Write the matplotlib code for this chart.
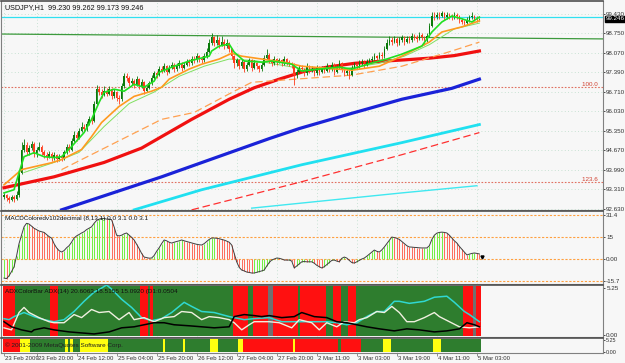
import numpy as np
import matplotlib
matplotlib.use('Agg')
import matplotlib.pyplot as plt
from matplotlib.transforms import blended_transform_factory as btf

plt.rcParams['font.family'] = ['Liberation Sans', 'DejaVu Sans']

# ---------------- data ----------------
symbol_title = "USDJPY,H1  99.230 99.262 99.173 99.246"
macd_title = "MACDColoredv102decimal (8,13,1) 0.0 3.1 0.0 3.1"
adx_title = "ADXColorBar ADX(14) 20.6063 18.5155 15.0920 (D1:0.0504"
copyright_text = "\u00a9 2001-2009 MetaQuotes Software Corp."

first_open = 93.05
closes = [93.10, 93.00, 92.95, 93.05, 92.98, 93.10, 93.90, 94.70, 94.85, 94.60,
          94.75, 94.90, 94.55, 94.70, 94.80, 94.60, 94.50, 94.45, 94.55, 94.40,
          94.50, 94.38, 94.45, 94.40, 94.60, 94.80, 94.70, 95.00, 95.20, 95.10,
          95.35, 95.50, 95.40, 95.60, 95.75, 95.70, 96.30, 96.80, 96.70, 96.60,
          96.75, 96.65, 96.80, 96.55, 96.70, 96.50, 96.45, 96.90, 97.25, 97.20,
          97.00, 97.10, 96.95, 97.15, 96.90, 97.05, 96.75, 96.85, 97.00, 97.20,
          97.35, 97.30, 97.50, 97.45, 97.60, 97.40, 97.55, 97.65, 97.50, 97.60,
          97.70, 97.55, 97.65, 97.75, 97.70, 97.85, 97.80, 97.95, 97.85, 97.80,
          97.95, 98.10, 98.40, 98.60, 98.40, 98.50, 98.35, 98.45, 98.30, 98.40,
          98.20, 97.95, 97.70, 97.80, 97.60, 97.75, 97.50, 97.65, 97.80, 97.55,
          97.70, 97.60, 97.50, 97.65, 97.90, 98.00, 97.80, 97.70, 97.85, 97.75,
          97.80, 97.70, 97.85, 97.75, 97.70, 97.65, 97.30, 97.40, 97.55, 97.50,
          97.35, 97.60, 97.45, 97.50, 97.35, 97.55, 97.40, 97.50, 97.45, 97.60,
          97.50, 97.65, 97.40, 97.55, 97.70, 97.50, 97.35, 97.45, 97.30, 97.55,
          97.65, 97.60, 97.70, 97.75, 97.65, 97.75, 97.80, 97.85, 97.95, 97.90,
          98.00, 97.95, 98.20, 98.40, 98.50, 98.45, 98.55, 98.40, 98.50, 98.60,
          98.45, 98.55, 98.50, 98.65, 98.60, 98.55, 98.70, 98.60, 98.50, 98.65,
          99.00, 99.35, 99.30, 99.40, 99.35, 99.45, 99.30, 99.40, 99.35, 99.30,
          99.40, 99.35, 99.20, 99.15, 99.10, 99.20, 99.30, 99.35, 99.25, 99.23,
          99.246]
highs = [93.18, 93.15, 93.08, 93.12, 93.10, 93.25, 94.00, 94.95, 95.05, 94.95,
         94.85, 95.00, 94.95, 94.80, 94.95, 94.85, 94.70, 94.60, 94.65, 94.60,
         94.60, 94.55, 94.55, 94.50, 94.70, 94.90, 94.88, 95.10, 95.35, 95.30,
         95.45, 95.65, 95.60, 95.70, 95.85, 95.85, 96.40, 96.95, 96.90, 96.80,
         96.90, 96.85, 96.90, 96.85, 96.80, 96.75, 96.60, 97.00, 97.35, 97.35,
         97.25, 97.20, 97.15, 97.25, 97.20, 97.15, 97.10, 96.95, 97.10, 97.30,
         97.45, 97.45, 97.60, 97.60, 97.70, 97.65, 97.65, 97.75, 97.70, 97.70,
         97.80, 97.75, 97.75, 97.85, 97.85, 97.95, 97.95, 98.05, 98.00, 97.95,
         98.05, 98.25, 98.55, 98.75, 98.65, 98.70, 98.60, 98.65, 98.55, 98.55,
         98.45, 98.25, 98.00, 97.90, 97.85, 97.85, 97.80, 97.75, 97.90, 97.85,
         97.80, 97.75, 97.65, 97.75, 98.00, 98.20, 98.05, 97.85, 97.95, 97.90,
         97.90, 97.85, 97.95, 97.90, 97.80, 97.75, 97.70, 97.50, 97.65, 97.65,
         97.55, 97.70, 97.65, 97.60, 97.55, 97.65, 97.60, 97.60, 97.55, 97.70,
         97.65, 97.75, 97.70, 97.65, 97.80, 97.75, 97.55, 97.55, 97.50, 97.65,
         97.75, 97.72, 97.80, 97.85, 97.80, 97.85, 97.90, 97.95, 98.05, 98.00,
         98.10, 98.10, 98.30, 98.55, 98.65, 98.60, 98.65, 98.60, 98.60, 98.70,
         98.65, 98.65, 98.65, 98.75, 98.72, 98.68, 98.80, 98.75, 98.65, 98.75,
         99.10, 99.50, 99.48, 99.50, 99.48, 99.52, 99.48, 99.48, 99.46, 99.42,
         99.47, 99.45, 99.38, 99.28, 99.22, 99.30, 99.40, 99.48, 99.40, 99.35,
         99.262]
lows = [92.98, 92.90, 92.85, 92.90, 92.88, 92.95, 93.05, 93.85, 94.60, 94.50,
        94.50, 94.70, 94.45, 94.45, 94.65, 94.50, 94.40, 94.35, 94.40, 94.30,
        94.35, 94.28, 94.30, 94.30, 94.35, 94.55, 94.60, 94.65, 94.95, 95.00,
        95.05, 95.30, 95.30, 95.35, 95.55, 95.60, 95.65, 96.25, 96.60, 96.50,
        96.55, 96.55, 96.60, 96.45, 96.50, 96.40, 96.30, 96.40, 96.85, 97.10,
        96.90, 96.95, 96.85, 96.90, 96.80, 96.85, 96.65, 96.70, 96.80, 96.95,
        97.15, 97.20, 97.25, 97.35, 97.40, 97.30, 97.35, 97.50, 97.40, 97.45,
        97.55, 97.45, 97.50, 97.60, 97.60, 97.65, 97.70, 97.75, 97.75, 97.70,
        97.75, 97.90, 98.05, 98.35, 98.30, 98.35, 98.25, 98.30, 98.20, 98.25,
        98.10, 97.85, 97.55, 97.60, 97.50, 97.55, 97.40, 97.45, 97.60, 97.45,
        97.50, 97.50, 97.40, 97.45, 97.60, 97.85, 97.70, 97.60, 97.65, 97.65,
        97.70, 97.60, 97.65, 97.65, 97.60, 97.55, 96.95, 97.20, 97.35, 97.40,
        97.25, 97.30, 97.35, 97.40, 97.25, 97.30, 97.30, 97.35, 97.35, 97.40,
        97.40, 97.45, 97.30, 97.35, 97.50, 97.40, 97.25, 97.30, 97.15, 97.25,
        97.50, 97.50, 97.55, 97.65, 97.55, 97.60, 97.70, 97.75, 97.80, 97.80,
        97.85, 97.85, 97.90, 98.15, 98.35, 98.35, 98.40, 98.30, 98.35, 98.45,
        98.35, 98.40, 98.40, 98.45, 98.50, 98.45, 98.50, 98.50, 98.35, 98.45,
        98.60, 98.95, 99.20, 99.25, 99.25, 99.30, 99.22, 99.25, 99.25, 99.20,
        99.25, 99.25, 99.12, 99.08, 99.02, 99.05, 99.15, 99.25, 99.18, 99.15,
        99.173]

# moving averages: (bar index, price)
ema_fast_i = [0, 4, 6, 8, 12, 16, 20, 23, 27, 32, 35, 38, 40, 44, 48, 52, 56, 60, 62, 68, 74,
              82, 83, 86, 90, 92, 96, 103, 107, 115, 119, 126, 134, 139, 147, 153, 159, 167,
              171, 175, 179, 183, 187, 190]
ema_fast_p = [93.19, 93.30, 93.89, 94.45, 94.59, 94.45, 94.42, 94.45, 94.80, 95.29, 95.75,
              96.34, 96.69, 96.80, 96.73, 96.97, 96.87, 97.08, 97.39, 97.60, 97.78, 97.95,
              98.13, 98.30, 98.37, 98.09, 97.78, 97.74, 97.78, 97.67, 97.43, 97.50, 97.57,
              97.50, 97.71, 97.85, 98.02, 98.30, 98.79, 99.14, 99.35, 99.25, 99.14, 99.31]
ema_mid_i = [0, 7, 19, 23, 31, 35, 39, 46, 52, 59, 63, 66, 74, 79, 86, 91, 95, 103, 112, 119,
             139, 150, 159, 170, 175, 183, 190]
ema_mid_p = [93.47, 94.00, 94.24, 94.35, 94.70, 95.15, 95.64, 96.20, 96.55, 96.73, 96.87,
             97.15, 97.50, 97.67, 97.85, 98.05, 97.95, 97.85, 97.74, 97.60, 97.46, 97.60,
             97.95, 98.44, 98.79, 98.97, 99.18]
sma_thin_i = [8, 20, 30, 40, 50, 60, 70, 80, 90, 100, 110, 120, 135, 150, 160, 170, 180, 190]
sma_thin_p = [93.90, 94.25, 94.60, 95.50, 96.30, 96.70, 97.25, 97.60, 97.85, 97.80, 97.65,
              97.50, 97.50, 97.70, 97.95, 98.35, 98.90, 99.10]
sma_dash_i = [23, 63, 76, 92, 99, 139, 159, 179, 190]
sma_dash_p = [94.00, 95.75, 95.99, 96.73, 97.04, 97.29, 97.60, 98.13, 98.44]
ma_red_i = [0, 20, 40, 55, 65, 75, 90, 100, 110, 120, 130, 140, 150, 160, 170, 180, 190]
ma_red_p = [93.37, 93.75, 94.25, 94.75, 95.25, 95.75, 96.45, 96.85, 97.15, 97.42, 97.58,
            97.70, 97.77, 97.82, 97.88, 97.97, 98.13]
ma_blue_i = [23, 63, 106, 118, 139, 159, 179, 190]
ma_blue_p = [92.60, 93.75, 95.08, 95.43, 95.96, 96.45, 96.83, 97.15]
ma_cyan_i = [52, 79, 119, 159, 190]
ma_cyan_p = [92.60, 93.30, 94.17, 94.94, 95.57]
ma_rdash_i = [75, 119, 159, 190]
ma_rdash_p = [92.60, 93.58, 94.52, 95.29]
ma_cthin_i = [99, 159, 189]
ma_cthin_p = [92.66, 93.19, 93.44]

trend_i = [-1, 240]
trend_p = [98.72, 98.55]
hline_cyan = 99.31
fib_levels = [96.86, 93.58]
fib_labels = ["100.0", "123.6"]
last_price = 99.246

macd = [-13.6, -14.0, -12.0, -9.0, -5.7, 2.0, 11.0, 17.0, 23.0, 25.5,
        25.0, 23.5, 22.0, 21.0, 20.0, 19.5, 19.0, 17.5, 16.0, 15.0,
        11.0, 8.0, 6.0, 5.0, 6.0, 8.0, 9.5, 12.0, 15.0, 16.5,
        17.5, 18.6, 19.5, 21.0, 22.0, 23.0, 25.5, 27.5, 28.5, 29.0,
        29.0, 28.5, 28.5, 28.0, 23.0, 17.0, 16.5, 17.0, 18.0, 18.6,
        17.0, 15.5, 13.6, 10.5, 7.5, 4.0, 1.4, 1.0, 0.6, 0.7,
        2.5, 5.5, 8.0, 11.0, 13.6, 13.0, 12.0, 11.4, 12.0, 12.5,
        13.0, 13.6, 13.0, 12.5, 12.0, 11.5, 11.0, 10.5, 10.2, 10.0,
        11.0, 12.5, 14.0, 15.0, 15.0, 14.8, 14.5, 14.0, 13.5, 12.8,
        12.0, 10.0, 4.0, -2.0, -6.0, -7.9, -8.5, -9.3, -9.6, -10.0,
        -10.0, -9.5, -9.0, -8.5, -7.9, -5.0, -2.5, -0.7, 0.0, 0.7,
        0.5, 0.0, -0.7, -0.8, -0.7, -1.5, -6.4, -5.0, -3.5, -2.0,
        -1.8, -2.0, -2.0, -2.0, -3.0, -4.5, -5.5, -6.4, -5.5, -4.0,
        -2.5, -1.0, -0.7, -1.5, -2.0, 0.5, 1.4, 0.7, -1.0, -2.5,
        -2.9, -2.0, -1.0, 0.0, 0.7, 2.0, 3.5, 5.0, 6.4, 5.5,
        5.0, 6.5, 8.6, 11.0, 13.5, 15.7, 15.3, 14.8, 14.0, 12.5,
        11.0, 9.5, 8.6, 8.5, 8.3, 8.2, 8.0, 7.9, 7.9, 7.9,
        9.5, 14.0, 17.0, 18.5, 19.0, 19.2, 19.0, 18.6, 17.0, 15.0,
        13.0, 11.4, 9.0, 7.0, 5.0, 2.9, 3.5, 4.0, 4.3, 4.0,
        3.6]
macd_levels = [31.4, 15.7, 0.0, -15.7]
macd_level_labels = ["31.4", "15", "0.00", "-15.7"]

adx_band_states = ['r', 'g', 'r', 'g', 'r', 'g', 'r', 'g', 'r', 'g', 'r', 'k', 'r', 'g',
                   'r', 'g', 'r', 'g', 'r', 'g', 'r', 'k', 'r']
adx_band_lens = [5, 14, 3, 33, 3, 1, 1, 32, 6, 2, 6, 2, 10, 1, 10, 3, 3, 3, 3, 43, 4, 1, 2]
adx_i = [0, 2, 4, 8, 12, 16, 20, 24, 28, 32, 36, 39, 41, 43, 47, 51, 55, 59, 63, 67, 72, 75,
         79, 84, 90, 92, 96, 100, 106, 111, 116, 122, 129, 133, 137, 141, 145, 149, 152, 156,
         158, 162, 168, 172, 177, 180, 184, 186, 190]
adx_v = [18, 17, 20, 24, 20, 17, 15, 17, 25, 35, 44, 48, 51, 47, 37, 29, 19, 16, 18, 24, 34,
         30, 25, 24, 20, 19, 17, 18, 19, 15, 15, 15, 15, 14, 12, 14, 20, 25, 25, 35, 35, 33,
         35, 39, 40, 34, 25, 22, 15]
pdi_i = [0, 3, 6, 8, 10, 14, 18, 20, 24, 28, 31, 35, 38, 42, 46, 50, 52, 56, 60, 64, 68, 71,
         75, 79, 82, 86, 90, 92, 95, 98, 100, 106, 110, 115, 118, 123, 126, 129, 133, 136,
         140, 142, 145, 149, 152, 155, 158, 161, 164, 168, 172, 174, 178, 182, 186, 190]
pdi_v = [9, 7, 24, 29, 24, 19, 15, 14, 14, 22, 19, 27, 24, 25, 17, 24, 17, 19, 15, 19, 20, 25,
         24, 17, 20, 19, 17, 14, 7, 12, 15, 15, 14, 9, 17, 14, 7, 14, 10, 15, 14, 17, 19, 25,
         24, 30, 24, 15, 15, 19, 24, 20, 15, 10, 9, 10]
mdi_i = [0, 3, 7, 11, 12, 16, 20, 26, 31, 36, 39, 42, 47, 52, 56, 60, 64, 68, 74, 79, 84, 90,
         92, 96, 100, 103, 106, 111, 116, 119, 124, 129, 133, 137, 141, 145, 150, 156, 161,
         166, 172, 177, 182, 185, 188, 190]
mdi_v = [15, 10, 7, 5, 7, 9, 7, 5, 4, 3, 4, 5, 9, 10, 12, 14, 14, 12, 11, 10, 9, 10, 20, 22,
         21, 20, 21, 19, 20, 24, 20, 19, 15, 14, 12, 10, 8, 6, 8, 7, 5, 6, 8, 14, 12, 10]

bar_states = ['r', 'y', 'g', 'y', 'g', 'y', 'g', 'y', 'g', 'y', 'g', 'y', 'g', 'y', 'g', 'y',
              'r', 'y', 'r', 'g', 'r', 'g', 'y', 'g', 'y', 'g']
bar_lens = [7, 4, 14, 1, 1, 1, 3, 11, 22, 1, 7, 1, 10, 3, 8, 2, 20, 1, 17, 1, 8, 9, 3, 17, 3, 16]

date_ticks = [0, 13, 29, 45, 61, 77, 93, 109, 125, 141, 157, 173, 189]
date_labels = ["23 Feb 2009", "23 Feb 20:00", "24 Feb 12:00", "25 Feb 04:00", "25 Feb 20:00",
               "26 Feb 12:00", "27 Feb 04:00", "27 Feb 20:00", "2 Mar 11:00", "3 Mar 03:00",
               "3 Mar 19:00", "4 Mar 11:00", "5 Mar 03:00"]
price_ticks = [92.630, 93.310, 93.990, 94.670, 95.350, 96.030, 96.710, 97.390, 98.070,
               98.750, 99.430]

# ---------------- layout ----------------
W, H = 625, 363
fig = plt.figure(figsize=(W / 100, H / 100), dpi=100)
fig.patch.set_facecolor('#f7f7f7')


def rect(x0, y0, x1, y1):
    return [x0 / W, 1 - y1 / H, (x1 - x0) / W, (y1 - y0) / H]


BG = '#f7f7f7'
GRID = '#b9dcc8'
AXC = '#808080'
TXT = '#303030'
FS = 5.2      # titles
FSR = 4.5     # right axis labels
FSD = 4.3     # date labels

ax1 = fig.add_axes(rect(1, 1, 603, 210))
ax2 = fig.add_axes(rect(1, 211, 603, 284))
ax3 = fig.add_axes(rect(1, 285, 603, 337))
ax4 = fig.add_axes(rect(1, 338, 603, 353))
axes = [ax1, ax2, ax3, ax4]

n = len(closes)
idx = np.arange(n)
XL = (-1.2, 239.4)
for ax in axes:
    ax.set_facecolor(BG)
    ax.set_xlim(*XL)
    for s in ax.spines.values():
        s.set_color(AXC)
        s.set_linewidth(0.8)
    ax.spines['top'].set_color('#505050')
    ax.spines['top'].set_linewidth(1.2)
    ax.yaxis.tick_right()
    ax.tick_params(axis='y', labelsize=FSR, colors=TXT, length=1.5, width=0.6, pad=0.8,
                   direction='out')
    ax.tick_params(axis='x', length=0, labelbottom=False)
    for t in date_ticks:
        ax.axvline(t, color=GRID, lw=0.6, ls=(0, (1, 3)), zorder=0)

# ---------------- main price panel ----------------
ax1.set_ylim(92.595, 99.87)
ax1.set_yticks(price_ticks)
ax1.set_yticklabels([f"{p:.3f}" for p in price_ticks])
for p in price_ticks:
    ax1.axhline(p, color=GRID, lw=0.6, ls=(0, (1, 3)), zorder=0)

ax1.axhline(hline_cyan, color='#30e0f0', lw=0.9, zorder=2)
ax1.plot(trend_i, trend_p, color='#3c9a3c', lw=0.9, zorder=2)
for lv, lb in zip(fib_levels, fib_labels):
    ax1.axhline(lv, color='#e07060', lw=0.8, ls=(0, (1.5, 1.5)), zorder=2)
    ax1.text(0.995, lv, lb + " ", transform=btf(ax1.transAxes, ax1.transData),
             ha='right', va='bottom', fontsize=FSR, color='#d04030')

ax1.plot(ma_cthin_i, ma_cthin_p, color='#40e8f0', lw=1.0, zorder=3)
ax1.plot(ma_rdash_i, ma_rdash_p, color='#ff3030', lw=0.9, ls=(0, (6, 3)), zorder=3)
ax1.plot(ma_cyan_i, ma_cyan_p, color='#20e0f0', lw=2.0, zorder=3)
ax1.plot(ma_blue_i, ma_blue_p, color='#1a22d8', lw=2.3, zorder=3)
ax1.plot(ma_red_i, ma_red_p, color='#f01010', lw=2.3, zorder=3)
ax1.plot(sma_dash_i, sma_dash_p, color='#ffa050', lw=0.9, ls=(0, (6, 3)), zorder=3)
ax1.plot(sma_thin_i, sma_thin_p, color='#80e060', lw=0.7, zorder=4)

opens = [first_open] + closes[:-1]
o = np.array(opens)
c = np.array(closes)
hi = np.array(highs)
lo = np.array(lows)
up = c >= o
col = np.where(up, '#0a7a0a', '#ff3a1a')
ax1.vlines(idx, lo, hi, colors=col, lw=0.6, zorder=5)
body_b = np.minimum(o, c)
body_h = np.maximum(np.abs(c - o), 0.02)
ax1.bar(idx, body_h, bottom=body_b, width=0.6, color=col, lw=0, zorder=6)

ax1.plot(ema_mid_i, ema_mid_p, color='#ff9a20', lw=1.2, zorder=7)
ax1.plot(ema_fast_i, ema_fast_p, color='#20e020', lw=1.2, zorder=8)

ax1.text(0.006, 0.985, symbol_title, transform=ax1.transAxes, ha='left', va='top',
         fontsize=FS, color='#101010')
ax1.text(1.004, last_price, f"{last_price:.3f}", transform=btf(ax1.transAxes, ax1.transData),
         ha='left', va='center', fontsize=FSR, color='white',
         bbox=dict(boxstyle='square,pad=0.12', fc='black', ec='black'), clip_on=False,
         zorder=10)

# ---------------- MACD panel ----------------
ax2.set_ylim(-17.85, 34.3)
ax2.set_yticks(macd_levels)
ax2.set_yticklabels(macd_level_labels)
for lv in macd_levels:
    ax2.axhline(lv, color='#ffa040', lw=0.8, ls=(0, (2, 1.5)), zorder=1)
m = np.array(macd)
rising = np.concatenate([[True], m[1:] >= m[:-1]])
hcol = np.where(rising, '#70f040', '#ff6a5a')
ax2.vlines(idx, 0, m, colors=hcol, lw=0.7, zorder=2)
ax2.plot(idx, m, color='#404040', lw=0.7, zorder=3)
ax2.plot([idx[-1] + 1.2], [m[-1] - 2.5], marker='v', ms=2.2, color='black', zorder=4)
ax2.text(0.006, 0.93, macd_title, transform=ax2.transAxes, ha='left', va='top',
         fontsize=4.6, color='#101010')

# ---------------- ADX color bar panel ----------------
ax3.set_ylim(0, 51)
ax3.set_yticks([2, 48])
ax3.set_yticklabels(["0.00", "5.25"])
cmap_adx = {'r': '#ff1010', 'g': '#2e7d2e', 'k': '#707070'}
adx_cols = np.repeat([cmap_adx[s] for s in adx_band_states], adx_band_lens)
ax3.bar(idx, 49, bottom=1.0, width=1.0, color=adx_cols, lw=0, zorder=1)
ax3.plot(adx_i, adx_v, color='#30d8d0', lw=1.1, zorder=3)
ax3.plot(pdi_i, pdi_v, color='#f0f0e0', lw=1.0, zorder=3)
ax3.plot(mdi_i, mdi_v, color='#000000', lw=1.1, zorder=3)
ax3.text(0.006, 0.93, adx_title, transform=ax3.transAxes, ha='left', va='top',
         fontsize=4.6, color='#101010', zorder=5)

# ---------------- bottom bar panel ----------------
ax4.set_ylim(0, 1)
ax4.set_yticks([0.1, 0.85])
ax4.set_yticklabels(["0.00", "5.25"])
for lab in ax4.get_yticklabels():
    lab.set_fontsize(4.0)
cmap_bar = {'r': '#ff1010', 'g': '#2e7d2e', 'y': '#ffff10'}
bar_cols = np.repeat([cmap_bar[s] for s in bar_states], bar_lens)
ax4.bar(idx, 0.92, bottom=0.04, width=1.0, color=bar_cols, lw=0, zorder=1)
ax4.text(0.006, 0.5, copyright_text, transform=ax4.transAxes, ha='left', va='center',
         fontsize=4.6, color='#202020', zorder=5)

# date labels
ax4.set_xticks(date_ticks)
ax4.tick_params(axis='x', length=2.5, width=0.6, colors=AXC, direction='out')
for t, lb in zip(date_ticks, date_labels):
    ax4.text(t + 0.5, -0.22, lb, transform=btf(ax4.transData, ax4.transAxes),
             ha='left', va='top', fontsize=FSD, color=TXT, clip_on=False)

fig.savefig('out.png', dpi=100, facecolor=fig.get_facecolor())
